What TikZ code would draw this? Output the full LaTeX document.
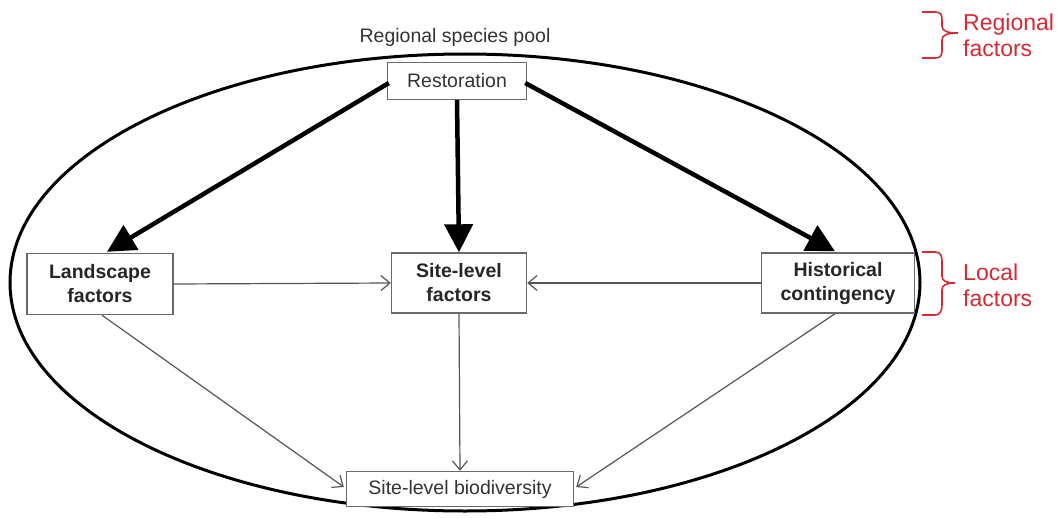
\documentclass[tikz,border=0pt]{standalone}
\usepackage{fontspec}
\setmainfont{Liberation Sans}
\usetikzlibrary{arrows.meta,calc}
\definecolor{boxgray}{HTML}{6A6A6A}
\definecolor{linegray}{HTML}{555555}
\definecolor{txtgray}{HTML}{333333}
\definecolor{bracered}{HTML}{D42A36}
\tikzset{
  plainbox/.style={draw=boxgray, line width=1.4pt, fill=white, inner sep=0pt,
    text=txtgray, font=\fontsize{19.5}{24}\selectfont, align=center},
  boldbox/.style={plainbox, text=black!85, font=\fontsize{19.5}{24}\selectfont\bfseries},
  thickarrow/.style={line width=4.5pt, -{Triangle[length=28pt,width=28pt]}},
  thinarrow/.style={draw=linegray, line width=1.2pt, -{Straight Barb[length=9pt,width=15pt,line width=1.2pt]}},
  redtext/.style={text=bracered, font=\fontsize{23}{26}\selectfont, align=left, anchor=west, inner sep=0pt},
  bracestyle/.style={draw=bracered, line width=1.6pt}
}
\begin{document}
\begin{tikzpicture}[x=1pt,y=-1pt]
\useasboundingbox (0,0) rectangle (1057,519);
% ellipse
\draw[line width=3pt] (465,282.5) ellipse [x radius=455, y radius=228.5];
\node[text=txtgray, font=\fontsize{19.5}{24}\selectfont] (pool) at (455,37) {Regional species pool};
% boxes
\node[plainbox, minimum width=139pt, minimum height=37pt] (rest) at (457,81) {Restoration};
\node[boldbox, minimum width=146pt, minimum height=61pt] (land) at (100,284) {Landscape\\factors};
\node[boldbox, minimum width=135pt, minimum height=60pt] (site) at (459,283) {Site-level\\factors};
\node[boldbox, minimum width=153pt, minimum height=60pt] (hist) at (838,283) {Historical\\contingency};
\node[plainbox, minimum width=227pt, minimum height=35pt] (bio) at (460,489) {Site-level biodiversity};
% thick arrows
\draw[thickarrow] ($(rest.west)+(2,2)$) -- ($(land.north)+(7,-1)$);
\draw[thickarrow] (rest.south) -- (site.north);
\draw[thickarrow] ($(rest.east)+(-2,2)$) -- ($(hist.north)+(-3,-1)$);
% thin arrows
\draw[thinarrow] (land.east) -- (site.west);
\draw[thinarrow] (hist.west) -- (site.east);
\draw[thinarrow] (site.south) -- (bio.north);
\draw[thinarrow] ($(land.south)+(2,0)$) -- ($(bio.west)+(-2,-2)$);
\draw[thinarrow] ($(hist.south)+(-3,0)$) -- ($(bio.east)+(2,-2)$);
% red braces
\draw[bracestyle] (922,12) -- (935,12) .. controls (941,12) and (942,15) .. (942,20)
  -- (942,26) .. controls (942,31) and (947,33) .. (958,33)
  .. controls (947,33) and (942,35) .. (942,40)
  -- (942,51) .. controls (942,56) and (940,58) .. (935,58) -- (922,58);
\node[redtext] (reg) at (963,35) {Regional\\factors};
\draw[bracestyle] (922,252) -- (935,252) .. controls (941,252) and (942,256) .. (942,262)
  -- (942,276) .. controls (942,281) and (946,283) .. (955,283)
  .. controls (946,283) and (942,285) .. (942,290)
  -- (942,305) .. controls (942,311) and (940,315) .. (935,315) -- (922,315);
\node[redtext] (loc) at (963,285) {Local\\factors};
\end{tikzpicture}
\end{document}
